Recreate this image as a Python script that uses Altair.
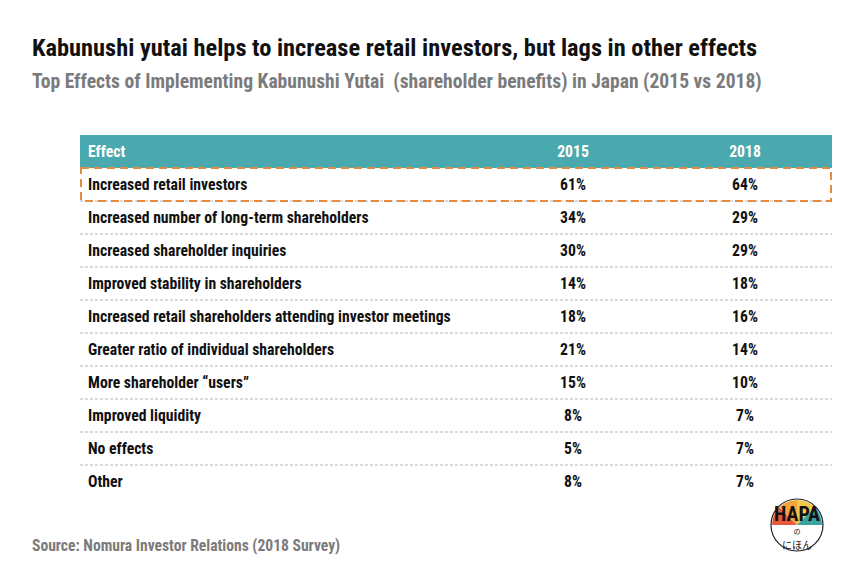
import altair as alt
import pandas as pd

effects = [
    "Increased retail investors",
    "Increased number of long-term shareholders",
    "Increased shareholder inquiries",
    "Improved stability in shareholders",
    "Increased retail shareholders attending investor meetings",
    "Greater ratio of individual shareholders",
    "More shareholder \u201cusers\u201d",
    "Improved liquidity",
    "No effects",
    "Other",
]
v2015 = [61, 34, 30, 14, 18, 21, 15, 8, 5, 8]
v2018 = [64, 29, 29, 18, 16, 14, 10, 7, 7, 7]
columns = ["Effect", "2015", "2018"]
highlight = "Increased retail investors"

FONT = "Roboto Condensed, Roboto, sans-serif"
TEAL = "#4aa9ae"
ORANGE = "#e38b3f"
GRAY = "#7b7b7b"
BODY = 15.7

W, H = 752, 363
row_order = ["__header__"] + effects

cells = []
for c in columns:
    cells.append({"row": "__header__", "col": c, "label": c, "header": True})
for e, a, b in zip(effects, v2015, v2018):
    cells.append({"row": e, "col": "Effect", "label": e, "header": False})
    cells.append({"row": e, "col": "2015", "label": f"{a}%", "header": False})
    cells.append({"row": e, "col": "2018", "label": f"{b}%", "header": False})
cells_df = pd.DataFrame(cells)

yscale = alt.Scale(domain=row_order, paddingInner=0, paddingOuter=0)
Y = lambda **kw: alt.Y("row:N", scale=yscale, axis=None, **kw)
txt_color = alt.Color("header:N", scale=alt.Scale(domain=[True, False], range=["#ffffff", "#111111"]), legend=None)

header = alt.Chart(pd.DataFrame({"row": ["__header__"]})).mark_rect(
    color=TEAL
).encode(y=Y(), x=alt.value(0), x2=alt.value(W))

seps = alt.Chart(pd.DataFrame({"row": effects[:-1]})).mark_rule(
    color="#b5b5b5", strokeDash=[3, 2], strokeWidth=1
).encode(y=Y(bandPosition=1), x=alt.value(0), x2=alt.value(W))

box = alt.Chart(pd.DataFrame({"row": [highlight]})).mark_rect(
    fill=None, stroke=ORANGE, strokeWidth=2, strokeDash=[8, 5]
).encode(y=Y(), x=alt.value(1), x2=alt.value(W - 1))


def column_layer(col, xpos, align):
    return alt.Chart(cells_df).transform_filter(
        alt.datum.col == col
    ).mark_text(align=align, baseline="middle", font=FONT, fontWeight="bold", fontSize=BODY).encode(
        y=Y(), x=alt.value(xpos), text="label:N", color=txt_color,
    )


col_effect = column_layer("Effect", 8, "left")
col_2015 = column_layer("2015", 493, "center")
col_2018 = column_layer("2018", 665, "center")

source = alt.Chart(pd.DataFrame({"t": ["Source: Nomura Investor Relations (2018 Survey)"]})).mark_text(
    align="left", baseline="middle", font=FONT, fontWeight="bold", fontSize=15.6, color=GRAY
).encode(text="t:N", x=alt.value(-48), y=alt.value(411))

# small logo
logo_parts = pd.DataFrame({
    "part": ["a", "b", "c", "d"],
    "t1": [4.712, 5.498, 6.283, 7.069],
    "t2": [5.498, 6.283, 7.069, 7.854],
    "c": ["#e65a3b", "#f3a53c", "#f2c84a", "#3aa3a0"],
})
logo_bg = alt.Chart(pd.DataFrame({"x": [0]})).mark_arc(
    fill="white", stroke="#222", strokeWidth=1.2, outerRadius=26, theta=0, theta2=6.2832
).encode(x=alt.value(717), y=alt.value(390))
logo_top = alt.Chart(logo_parts).mark_arc(outerRadius=25).encode(
    theta=alt.Theta("t1:Q", scale=None), theta2="t2:Q",
    color=alt.Color("c:N", scale=None), x=alt.value(717), y=alt.value(390),
)
logo_txt = alt.Chart(pd.DataFrame({"t": ["HAPA"]})).mark_text(
    font=FONT, fontWeight="bold", fontSize=20, color="#111", baseline="alphabetic"
).encode(text="t:N", x=alt.value(717), y=alt.value(386))
logo_jp = alt.Chart(pd.DataFrame({"t": ["の", "にほん"], "yy": [397, 411], "s": [7, 10]})).mark_text(
    font="Noto Sans CJK JP", color="#111", baseline="middle"
).encode(text="t:N", x=alt.value(717), y=alt.Y("yy:Q", scale=None), size=alt.Size("s:Q", scale=None, legend=None))

chart = alt.layer(
    header, seps, box, col_effect, col_2015, col_2018, source, logo_bg, logo_top, logo_txt, logo_jp
).properties(
    width=W, height=H,
    padding={"left": 72, "top": 127, "right": 11, "bottom": 61},
    autosize=alt.AutoSizeParams(type="none"),
    title=alt.TitleParams(
        text="Kabunushi yutai helps to increase retail investors, but lags in other effects",
        subtitle="Top Effects of Implementing Kabunushi Yutai\u00a0 (shareholder benefits) in Japan (2015 vs 2018)",
        anchor="start", frame="group", dx=-48, offset=42,
        font=FONT, fontSize=24.4, fontWeight="bold", color="#111",
        subtitleFont=FONT, subtitleFontSize=19.6, subtitleFontWeight="bold", subtitleColor=GRAY,
        subtitlePadding=12,
    ),
).configure_view(stroke=None)

chart.save("out.html", embed_options={"renderer": "svg", "actions": False})
